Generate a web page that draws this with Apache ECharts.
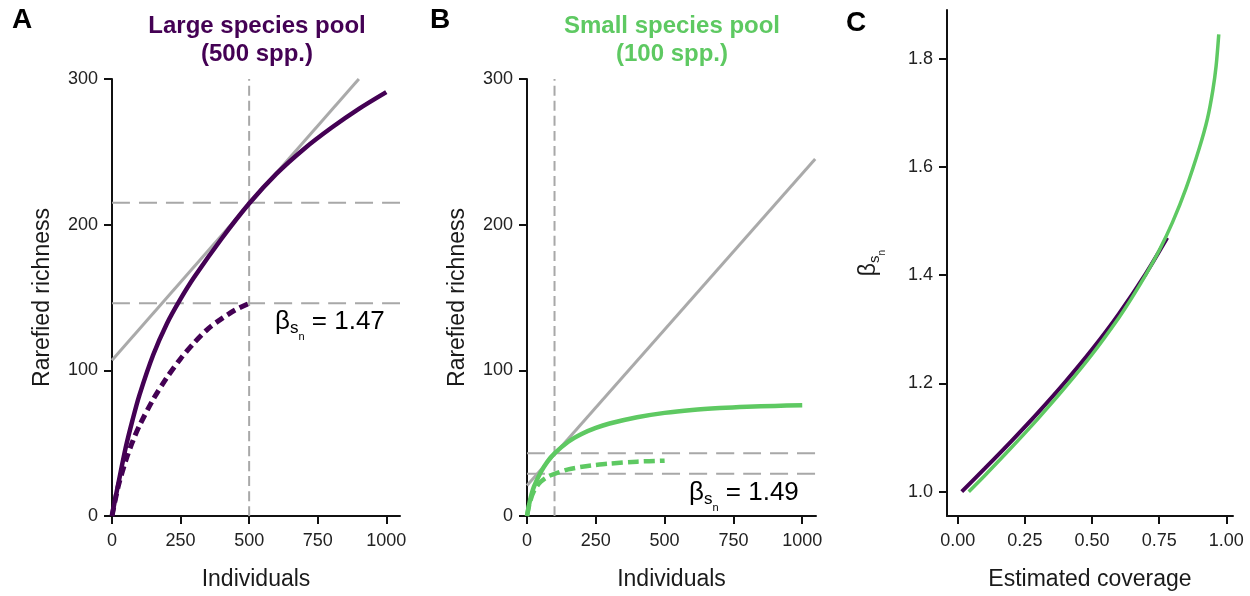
<!DOCTYPE html>
<html><head><meta charset="utf-8">
<script src="https://cdn.jsdelivr.net/npm/echarts@6/dist/echarts.min.js"></script>
<style>html,body{margin:0;padding:0;background:#fff}#c{width:1250px;height:596px}</style>
</head><body><div id="c"></div><script>
// ---- data ----
const individuals = [0, 10, 25, 50, 75, 100, 150, 200, 250, 300, 400, 500, 600, 700, 800, 900, 1000];
const largeFull = [0, 10, 24, 47, 66, 83, 110.5, 132, 149, 164, 190.5, 214.5, 235, 252, 266.5, 279.5, 291];
const largeSubIndividuals = [0, 10, 25, 50, 75, 100, 150, 200, 250, 300, 350, 400, 450, 500];
const largeSub = [0, 9.5, 22, 38, 51, 62, 80, 95, 108, 119, 128.5, 135.5, 141.5, 146];
const smallFull = [0, 10, 20, 30, 37.5, 43, 51, 56.5, 60.5, 63.5, 67.8, 70.8, 72.8, 74.1, 75, 75.6, 76];
const smallSubIndividuals = [0, 10, 25, 50, 75, 100, 150, 200, 250, 300, 400, 500];
const smallSub = [0, 9, 17, 23.5, 27, 29, 32, 33.8, 35, 36, 37.3, 38];
const tangentLargeX = [0, 900];
const tangentLargeY = [107, 300];
const tangentSmallX = [0, 1047];
const tangentSmallY = [21, 245];
const refLarge = [500, 215, 146];   // sample size, full richness, sub-sample richness
const refSmall = [100, 43, 29];
const coverageLarge = [0.015, 0.1, 0.2, 0.3, 0.4, 0.5, 0.6, 0.7, 0.78];
const betaLarge = [1.0, 1.0425, 1.0935, 1.1465, 1.2025, 1.2625, 1.3285, 1.4025, 1.469];
const coverageSmall = [0.041, 0.1, 0.2, 0.3, 0.4, 0.5, 0.6, 0.65, 0.7, 0.75, 0.8, 0.85, 0.9, 0.93, 0.95, 0.962, 0.972];
const betaSmall = [1.0, 1.0295, 1.0815, 1.1355, 1.1925, 1.2535, 1.3215, 1.3595, 1.4005, 1.4455, 1.498, 1.5605, 1.6355, 1.6895, 1.742, 1.786, 1.845];
const richTicks = [0, 100, 200, 300];
const indTicks = [0, 250, 500, 750, 1000];
const covTicks = [0, 0.25, 0.5, 0.75, 1.0];
const betaTicks = [1.0, 1.2, 1.4, 1.6, 1.8];
const betaLabels = ['1.47', '1.49'];

// ---- style ----
const PURPLE = '#440154', GREEN = '#5ec962', GRAY = '#aaaaaa', REF = '#a8a8a8';
const FONT = 'Liberation Sans, Arial, sans-serif';
const zip = (xs, ys) => xs.map((x, i) => [x, ys[i]]);

function xAx(gi, min, max, ticks, name, fmt) {
  return {
    type: 'value', gridIndex: gi, min: min, max: max,
    name: name, nameLocation: 'middle', nameGap: 52,
    nameTextStyle: { fontFamily: FONT, fontSize: 23, color: '#1a1a1a' },
    axisLine: { show: true, onZero: false, lineStyle: { color: '#111', width: 2 } },
    axisTick: { show: true, length: 8, customValues: ticks, lineStyle: { color: '#111', width: 2 } },
    axisLabel: { customValues: ticks, margin: 16, fontFamily: FONT, fontSize: 18, color: '#222', formatter: fmt },
    splitLine: { show: false }
  };
}
function yAx(gi, min, max, ticks, name, fmt, gap, rich) {
  const o = {
    type: 'value', gridIndex: gi, min: min, max: max,
    name: name, nameLocation: 'middle', nameGap: gap,
    nameTextStyle: { fontFamily: FONT, fontSize: 23, color: '#1a1a1a' },
    axisLine: { show: true, onZero: false, lineStyle: { color: '#111', width: 2 } },
    axisTick: { show: true, length: 8, customValues: ticks, lineStyle: { color: '#111', width: 2 } },
    axisLabel: { customValues: ticks, margin: 14, fontFamily: FONT, fontSize: 18, color: '#222', formatter: fmt },
    splitLine: { show: false }
  };
  if (rich) o.nameTextStyle.rich = rich;
  return o;
}
function line(xi, data, color, width, type, z) {
  return { type: 'line', xAxisIndex: xi, yAxisIndex: xi, data: data, showSymbol: false, symbol: 'none',
    smooth: 0.3, silent: true, z: z || 2,
    lineStyle: { color: color, width: width, type: type || 'solid', cap: 'butt' } };
}
function refLines(xi, ref) {
  return [
    line(xi, [[ref[0], 0], [ref[0], 300]], REF, 2, [10, 5], 1),
    line(xi, [[0, ref[1]], [1050, ref[1]]], REF, 2, [18, 9], 1),
    line(xi, [[0, ref[2]], [1050, ref[2]]], REF, 2, [18, 9], 1)
  ];
}
const betaRich = {
  b: { fontFamily: FONT, fontSize: 26, color: '#1a1a1a' },
  s: { fontFamily: FONT, fontSize: 17, color: '#1a1a1a', padding: [13, 0, 0, 0] },
  n: { fontFamily: FONT, fontSize: 11, color: '#1a1a1a', padding: [30, 0, 0, 0] }
};
const nameRich = {
  b: { fontFamily: FONT, fontSize: 23, color: '#1a1a1a' },
  s: { fontFamily: FONT, fontSize: 15, color: '#1a1a1a', padding: [11, 0, 0, 0] },
  n: { fontFamily: FONT, fontSize: 10, color: '#1a1a1a', padding: [26, 0, 0, 0] }
};

const titleBase = { fontFamily: FONT, fontWeight: 'bold' };
const option = {
  animation: false,
  backgroundColor: '#fff',
  title: [
    { text: 'A', left: 12, top: 6, padding: 0, textStyle: Object.assign({ fontSize: 28, color: '#000' }, titleBase) },
    { text: 'B', left: 430, top: 6, padding: 0, textStyle: Object.assign({ fontSize: 28, color: '#000' }, titleBase) },
    { text: 'C', left: 846, top: 9, padding: 0, textStyle: Object.assign({ fontSize: 28, color: '#000' }, titleBase) },
    { text: 'Large species pool\n(500 spp.)', left: 257, top: 12, padding: 0, textAlign: 'center',
      textStyle: Object.assign({ fontSize: 24, lineHeight: 28, color: PURPLE }, titleBase) },
    { text: 'Small species pool\n(100 spp.)', left: 672, top: 12, padding: 0, textAlign: 'center',
      textStyle: Object.assign({ fontSize: 24, lineHeight: 28, color: GREEN }, titleBase) }
  ],
  grid: [
    { left: 112, top: 79, width: 288, height: 438 },
    { left: 527, top: 79, width: 289, height: 438 },
    { left: 947, top: 10, width: 286, height: 508 }
  ],
  xAxis: [
    xAx(0, 0, 1050, indTicks, 'Individuals', v => String(v)),
    xAx(1, 0, 1050, indTicks, 'Individuals', v => String(v)),
    xAx(2, -0.04, 1.025, covTicks, 'Estimated coverage', v => v.toFixed(2))
  ],
  yAxis: [
    yAx(0, 0, 300, richTicks, 'Rarefied richness', v => String(v), 58),
    yAx(1, 0, 300, richTicks, 'Rarefied richness', v => String(v), 58),
    yAx(2, 0.955, 1.89, betaTicks, '{b|β}{s|s}{n|n}', v => v.toFixed(1), 60, nameRich)
  ],
  graphic: [
    { type: 'text', left: 275, top: 309, silent: true,
      style: { text: '{b|β}{s|s}{n|n}{b| = ' + betaLabels[0] + '}', rich: betaRich } },
    { type: 'text', left: 689, top: 480, silent: true,
      style: { text: '{b|β}{s|s}{n|n}{b| = ' + betaLabels[1] + '}', rich: betaRich } }
  ],
  series: [
    ...refLines(0, refLarge),
    line(0, zip(tangentLargeX, tangentLargeY), GRAY, 3, 'solid', 2),
    line(0, zip(largeSubIndividuals, largeSub), PURPLE, 5, [9, 5], 3),
    line(0, zip(individuals, largeFull), PURPLE, 4.5, 'solid', 4),
    ...refLines(1, refSmall),
    line(1, zip(tangentSmallX, tangentSmallY), GRAY, 3, 'solid', 2),
    line(1, zip(smallSubIndividuals, smallSub), GREEN, 4.5, [11, 5], 3),
    line(1, zip(individuals, smallFull), GREEN, 4.5, 'solid', 4),
    line(2, zip(coverageLarge, betaLarge), PURPLE, 4, 'solid', 3),
    line(2, zip(coverageSmall, betaSmall), GREEN, 3.5, 'solid', 4)
  ]
};
echarts.init(document.getElementById('c'), null, { renderer: 'canvas' }).setOption(option);
</script></body></html>
